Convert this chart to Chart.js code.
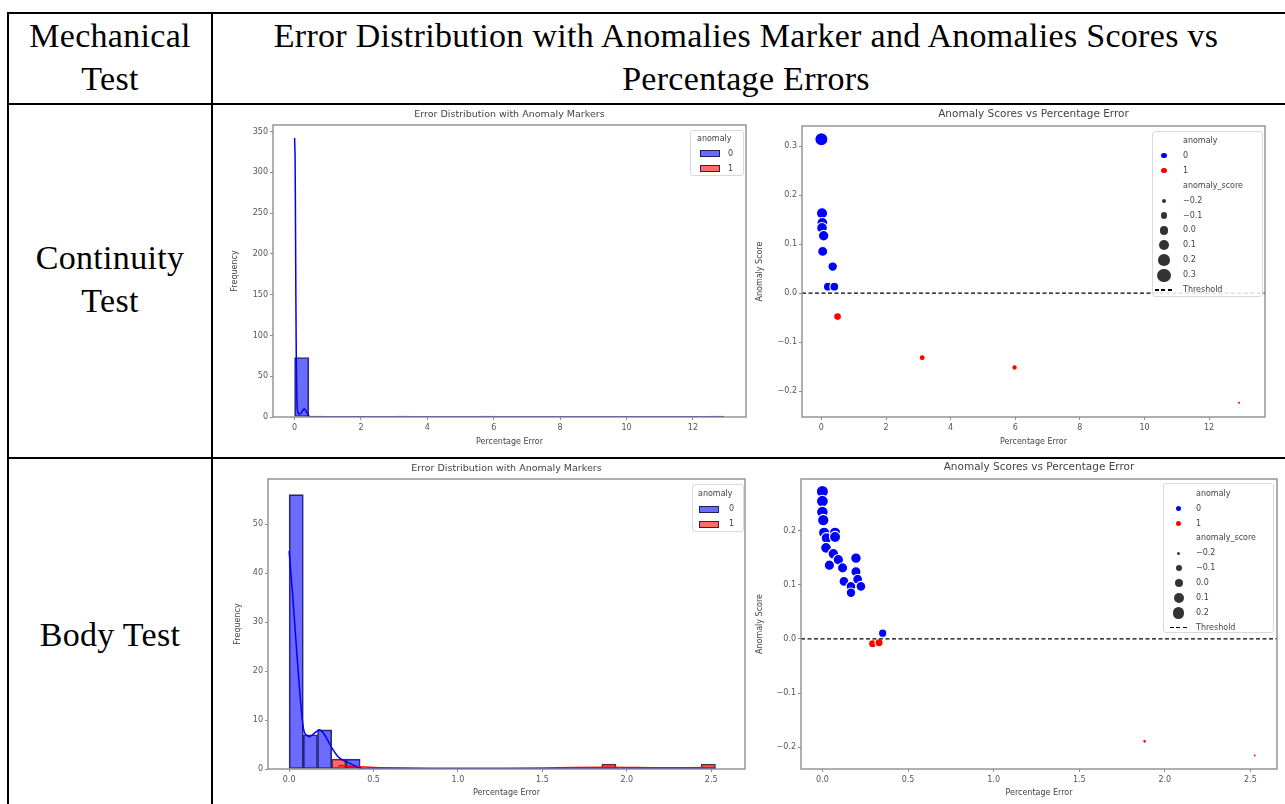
<!DOCTYPE html>
<html>
<head>
<meta charset="utf-8">
<script src="https://cdn.jsdelivr.net/npm/chart.js@4.4.1/dist/chart.umd.min.js"></script>
<style>
html,body{margin:0;padding:0;background:#fff;}
body{width:1285px;height:804px;overflow:hidden;position:relative;}
.ln{position:absolute;background:#000;}
.cell{position:absolute;font-family:'Liberation Serif','Times New Roman',serif;font-size:34px;line-height:43.3px;letter-spacing:0.3px;color:#000;text-align:center;white-space:nowrap;}
canvas{position:absolute;}
.lg{position:absolute;box-sizing:border-box;background:rgba(255,255,255,0.85);border:1px solid #d9d9d9;border-radius:3px;}
.lg span{position:absolute;font-family:'DejaVu Sans',sans-serif;font-size:8px;line-height:8px;color:#444;white-space:nowrap;}
.lg i{position:absolute;display:block;}
</style>
</head>
<body>
<div class="ln" style="left:7px;top:12px;width:1278px;height:2px"></div>
<div class="ln" style="left:7px;top:103px;width:1278px;height:2px"></div>
<div class="ln" style="left:7px;top:457px;width:1278px;height:2px"></div>
<div class="ln" style="left:7px;top:12px;width:2px;height:792px"></div>
<div class="ln" style="left:211px;top:12px;width:2px;height:792px"></div>

<div class="cell" style="left:9px;width:202px;top:13.6px">Mechanical<br>Test</div>
<div class="cell" style="left:213px;width:1066px;top:13.6px">Error Distribution with Anomalies Marker and Anomalies Scores vs<br>Percentage Errors</div>
<div class="cell" style="left:9px;width:202px;top:236px">Continuity<br>Test</div>
<div class="cell" style="left:9px;width:202px;top:613px">Body Test</div>

<canvas id="cHist"></canvas>
<canvas id="cScore"></canvas>
<canvas id="bHist"></canvas>
<canvas id="bScore"></canvas>

<script>
// ================= DATA =================
// Continuity Test - histogram (30 bins)
const contBinCenters = [0.2155, 0.6465, 1.0775, 1.5085, 1.9395, 2.3705, 2.8015, 3.2325, 3.6635, 4.0945,
  4.5255, 4.9565, 5.3875, 5.8185, 6.2495, 6.6805, 7.1115, 7.5425, 7.9735, 8.4045,
  8.8355, 9.2665, 9.6975, 10.1285, 10.5595, 10.9905, 11.4215, 11.8525, 12.2835, 12.7145];
const contBlueCounts = [73, 0, 0, 0, 0, 0, 0, 0, 0, 0, 0, 0, 0, 0, 0, 0, 0, 0, 0, 0, 0, 0, 0, 0, 0, 0, 0, 0, 0, 0];
const contRedCounts  = [0, 1, 0, 0, 0, 0, 0, 1, 0, 0, 0, 0, 0, 1, 0, 0, 0, 0, 0, 0, 0, 0, 0, 0, 0, 0, 0, 0, 0, 1];
const contKdeBlueX = [0.0, 0.015, 0.03, 0.05, 0.08, 0.12, 0.18, 0.24, 0.3, 0.36, 0.42, 0.5, 12.93];
const contKdeBlueY = [342, 320, 220, 80, 10, 4, 4, 8, 10, 6, 1.5, 0, 0];
const contKdeRedX = [0.5, 2.0, 4.0, 6.0, 8.0, 10.0, 12.93];
const contKdeRedY = [0.2, 0.2, 0.2, 0.2, 0.15, 0.1, 0.1];
const contHistXTicks = [0, 2, 4, 6, 8, 10, 12];
const contHistYTicks = [0, 50, 100, 150, 200, 250, 300, 350];
const contHistXRange = [-0.65, 13.6];
const contHistYRange = [0, 358];

// Continuity Test - anomaly scores
const contBlueErr   = [0.0, 0.02, 0.03, 0.02, 0.07, 0.04, 0.35, 0.2, 0.4];
const contBlueScore = [0.314, 0.163, 0.143, 0.133, 0.117, 0.085, 0.054, 0.013, 0.013];
const contRedErr    = [0.5, 3.12, 5.98, 12.93];
const contRedScore  = [-0.048, -0.132, -0.152, -0.224];
const contScoreXTicks = [0, 2, 4, 6, 8, 10, 12];
const contScoreYTicks = [-0.2, -0.1, 0.0, 0.1, 0.2, 0.3];
const contScoreXRange = [-0.60, 13.73];
const contScoreYRange = [-0.253, 0.341];
const contSizeLevels = [-0.2, -0.1, 0.0, 0.1, 0.2, 0.3];

// Body Test - histogram (30 bins)
const bodyBinCenters = [0.0421, 0.1262, 0.2104, 0.2946, 0.3787, 0.4629, 0.5471, 0.6313, 0.7154, 0.7996,
  0.8838, 0.9679, 1.0521, 1.1363, 1.2204, 1.3046, 1.3888, 1.4730, 1.5571, 1.6413,
  1.7255, 1.8096, 1.8938, 1.9780, 2.0621, 2.1463, 2.2305, 2.3146, 2.3988, 2.4830];
const bodyBlueCounts = [56, 7, 8, 0, 2, 0, 0, 0, 0, 0, 0, 0, 0, 0, 0, 0, 0, 0, 0, 0, 0, 0, 0, 0, 0, 0, 0, 0, 0, 0];
const bodyRedCounts  = [0, 0, 0, 2, 0, 0, 0, 0, 0, 0, 0, 0, 0, 0, 0, 0, 0, 0, 0, 0, 0, 0, 1, 0, 0, 0, 0, 0, 0, 1];
const bodyKdeBlueX = [0.0, 0.02, 0.045, 0.07, 0.09, 0.12, 0.15, 0.18, 0.21, 0.25, 0.29, 0.33, 0.37, 0.41, 0.45, 2.525];
const bodyKdeBlueY = [44.5, 36, 24, 13, 7.5, 6.6, 7.3, 8, 7, 4.5, 2.5, 1.6, 1.0, 0.3, 0, 0];
const bodyKdeRedX = [0.29, 0.31, 0.33, 0.5, 1.0, 1.5, 1.88, 2.2, 2.525];
const bodyKdeRedY = [0.6, 0.7, 0.6, 0.3, 0.15, 0.2, 0.35, 0.25, 0.3];
const bodyHistXTicks = [0.0, 0.5, 1.0, 1.5, 2.0, 2.5];
const bodyHistYTicks = [0, 10, 20, 30, 40, 50];
const bodyHistXRange = [-0.125, 2.7];
const bodyHistYRange = [0, 59.2];

// Body Test - anomaly scores
const bodyBlueErr   = [0.0, 0.0, 0.0, 0.005, 0.01, 0.025, 0.074, 0.074, 0.021, 0.064, 0.041, 0.093, 0.118, 0.126, 0.167, 0.167, 0.196, 0.196, 0.206, 0.225, 0.352];
const bodyBlueScore = [0.272, 0.254, 0.234, 0.219, 0.196, 0.186, 0.196, 0.188, 0.168, 0.157, 0.136, 0.146, 0.131, 0.106, 0.097, 0.085, 0.149, 0.124, 0.110, 0.097, 0.0105];
const bodyRedErr    = [0.293, 0.331, 1.882, 2.525];
const bodyRedScore  = [-0.009, -0.007, -0.189, -0.215];
const bodyScoreXTicks = [0.0, 0.5, 1.0, 1.5, 2.0, 2.5];
const bodyScoreYTicks = [-0.2, -0.1, 0.0, 0.1, 0.2];
const bodyScoreXRange = [-0.125, 2.655];
const bodyScoreYRange = [-0.24, 0.295];
const bodySizeLevels = [-0.2, -0.1, 0.0, 0.1, 0.2];

const threshold = 0.0;

// ================= RENDERING =================
const FONT = "'DejaVu Sans', sans-serif";
Chart.defaults.font.family = FONT;
const BLUE_FILL = 'rgba(0,0,255,0.58)';
const RED_FILL = 'rgba(255,0,0,0.58)';
const EDGE = 'rgba(20,20,50,0.85)';
const SPINE = '#8e8e8e';
const TXT = '#444';

const zip = (xs, ys) => xs.map((x, i) => ({x: x, y: ys[i]}));
const fmt1 = v => v.toFixed(1).replace('-', '\u2212');
const fmt0 = v => String(v);

const spinePlugin = {
  id: 'spines',
  afterDatasetsDraw(chart) {
    const {ctx, chartArea: a} = chart;
    ctx.save();
    ctx.strokeStyle = SPINE; ctx.lineWidth = 1.4;
    ctx.strokeRect(a.left, a.top, a.right - a.left, a.bottom - a.top);
    ctx.restore();
  }
};

function geom(id, cv, plot, yW, xH, titleSize, titlePadB) {
  const el = document.getElementById(id);
  el.width = cv.w; el.height = cv.h;
  Object.assign(el.style, {left: cv.x + 'px', top: cv.y + 'px', width: cv.w + 'px', height: cv.h + 'px'});
  const titleH = titleSize * 1.2 + titlePadB;
  return {el, yW, xH, titleSize, titlePadB, padding: {
    left: plot.L - cv.x - yW, top: plot.T - cv.y - titleH,
    right: cv.x + cv.w - plot.R, bottom: cv.y + cv.h - plot.B - xH }};
}

function axisCommon(range, ticks, fmt, title, fixed, isX) {
  const o = {
    type: 'linear', min: range[0], max: range[1], offset: false,
    afterBuildTicks: s => { s.ticks = ticks.map(v => ({value: v})); },
    ticks: {autoSkip: false, maxRotation: 0, padding: isX ? 3 : 2, color: '#555', font: {size: 8, family: FONT}, callback: v => fmt(v)},
    grid: {display: true, drawOnChartArea: false, drawTicks: true, tickLength: 3, color: SPINE, offset: false},
    border: {display: false},
    title: {display: true, text: title, color: TXT, font: {size: 8, family: FONT},
            padding: isX ? {top: 0, bottom: 2} : {top: 3, bottom: 0}}
  };
  if (isX) o.afterFit = s => { s.height = fixed; };
  else o.afterFit = s => { s.width = fixed; };
  return o;
}

function baseOptions(g, titleText, xAxis, yAxis) {
  return {
    responsive: false, animation: false, devicePixelRatio: 1,
    layout: {padding: g.padding},
    plugins: {
      legend: {display: false}, tooltip: {enabled: false},
      title: {display: true, text: titleText, fullSize: false, color: TXT,
              font: {size: g.titleSize, weight: 'normal', family: FONT},
              padding: {top: 0, bottom: g.titlePadB}}
    },
    scales: {x: xAxis, y: yAxis}
  };
}

function histChart(g, d) {
  const bw = c => (c.raw && c.raw.y > 0) ? 1 : 0;
  new Chart(g.el, {
    type: 'bar',
    data: {datasets: [
      {type: 'line', data: zip(d.kbx, d.kby), borderColor: 'blue', borderWidth: 1.5, pointRadius: 0, tension: 0.3, order: 0},
      {type: 'line', data: zip(d.krx, d.kry), borderColor: 'red', borderWidth: 1.5, pointRadius: 0, tension: 0.3, order: 1},
      {data: zip(d.bins, d.red), backgroundColor: RED_FILL, borderColor: EDGE, borderWidth: bw, borderSkipped: false,
       grouped: false, barPercentage: 1, categoryPercentage: 1, order: 2},
      {data: zip(d.bins, d.blue), backgroundColor: BLUE_FILL, borderColor: EDGE, borderWidth: bw, borderSkipped: false,
       grouped: false, barPercentage: 1, categoryPercentage: 1, order: 3}
    ]},
    options: baseOptions(g, 'Error Distribution with Anomaly Markers',
      axisCommon(d.xr, d.xt, d.xf, 'Percentage Error', g.xH, true),
      axisCommon(d.yr, d.yt, fmt0, 'Frequency', g.yW, false)),
    plugins: [spinePlugin]
  });
}

function sizeFn(sMin, sMax, rMax) {
  return s => rMax * Math.sqrt((1 + 9 * (s - sMin) / (sMax - sMin)) / 10);
}

function scoreChart(g, d) {
  const rad = sizeFn(d.sMin, d.sMax, d.rMax);
  const pr = c => rad(c.raw.y) - 0.6;
  new Chart(g.el, {
    type: 'scatter',
    data: {datasets: [
      {type: 'line', data: [{x: d.xr[0], y: threshold}, {x: d.xr[1], y: threshold}], borderColor: '#000',
       borderWidth: 1.3, borderDash: [4, 2.5], pointRadius: 0, order: 0},
      {data: zip(d.bx, d.by), pointBackgroundColor: 'blue', backgroundColor: 'blue', pointBorderColor: '#fff',
       borderColor: '#fff', pointBorderWidth: 1.2, pointRadius: pr, pointHoverRadius: pr, order: 1},
      {data: zip(d.rx, d.ry), pointBackgroundColor: 'red', backgroundColor: 'red', pointBorderColor: '#fff',
       borderColor: '#fff', pointBorderWidth: 1.2, pointRadius: pr, pointHoverRadius: pr, order: 1}
    ]},
    options: baseOptions(g, 'Anomaly Scores vs Percentage Error',
      axisCommon(d.xr, d.xt, d.xf, 'Percentage Error', g.xH, true),
      axisCommon(d.yr, d.yt, fmt1, 'Anomaly Score', g.yW, false)),
    plugins: [spinePlugin]
  });
  return rad;
}

function addLegend(box, items) {
  const d = document.createElement('div');
  d.className = 'lg';
  Object.assign(d.style, {left: box.x + 'px', top: box.y + 'px', width: box.w + 'px', height: box.h + 'px'});
  items.forEach((it, i) => {
    const cy = box.row0 + i * box.step;
    if (it.kind === 'dot') {
      const m = document.createElement('i');
      Object.assign(m.style, {left: (box.mx - it.r) + 'px', top: (cy - it.r) + 'px', width: 2 * it.r + 'px',
        height: 2 * it.r + 'px', borderRadius: '50%', background: it.color});
      d.appendChild(m);
    } else if (it.kind === 'patch') {
      const m = document.createElement('i');
      Object.assign(m.style, {left: box.px + 'px', top: (cy - 3.5) + 'px', width: '20px', height: '7px',
        background: it.color, boxSizing: 'border-box', border: '1px solid ' + EDGE});
      d.appendChild(m);
    } else if (it.kind === 'dash') {
      const m = document.createElement('i');
      Object.assign(m.style, {left: (box.mx - 9) + 'px', top: (cy - 0.65) + 'px', width: '18px', height: '1.3px',
        background: 'repeating-linear-gradient(90deg,#000 0 4px,transparent 4px 6.5px)'});
      d.appendChild(m);
    }
    const s = document.createElement('span');
    s.textContent = it.label;
    s.style.left = (it.kind === 'title' && box.tx0 !== undefined ? box.tx0 : box.tx) + 'px';
    s.style.top = (cy - 4) + 'px';
    d.appendChild(s);
  });
  document.body.appendChild(d);
}

// ---- Continuity: histogram ----
const gA = geom('cHist', {x: 214, y: 106, w: 540, h: 351}, {L: 273, T: 125, R: 746, B: 417}, 45.8, 31.8, 9.5, 5.2);
histChart(gA, {bins: contBinCenters, blue: contBlueCounts, red: contRedCounts,
  kbx: contKdeBlueX, kby: contKdeBlueY, krx: contKdeRedX, kry: contKdeRedY,
  xr: contHistXRange, xt: contHistXTicks, xf: fmt0, yr: contHistYRange, yt: contHistYTicks});
addLegend({x: 690, y: 130, w: 54, h: 46, row0: 7.5, step: 15.2, px: 9, tx: 37, tx0: 6}, [
  {kind: 'title', label: 'anomaly'},
  {kind: 'patch', label: '0', color: BLUE_FILL},
  {kind: 'patch', label: '1', color: RED_FILL}
]);

// ---- Continuity: scores ----
const gB = geom('cScore', {x: 750, y: 106, w: 535, h: 351}, {L: 802, T: 126, R: 1265, B: 417}, 49.8, 31.8, 10.5, 5.2);
const contAll = contBlueScore.concat(contRedScore);
const radB = scoreChart(gB, {bx: contBlueErr, by: contBlueScore, rx: contRedErr, ry: contRedScore,
  sMin: Math.min(...contAll), sMax: Math.max(...contAll), rMax: 7.2,
  xr: contScoreXRange, xt: contScoreXTicks, xf: fmt0, yr: contScoreYRange, yt: contScoreYTicks});
addLegend({x: 1152, y: 131, w: 111, h: 166, row0: 9, step: 14.9, mx: 11, tx: 30}, [
  {kind: 'title', label: 'anomaly'},
  {kind: 'dot', label: '0', color: 'blue', r: 2.6},
  {kind: 'dot', label: '1', color: 'red', r: 2.6},
  {kind: 'title', label: 'anomaly_score'}
].concat(contSizeLevels.map(v => ({kind: 'dot', label: fmt1(v), color: '#333', r: Math.max(radB(v) - 0.6, 1.2)})))
 .concat([{kind: 'dash', label: 'Threshold'}]));

// ---- Body: histogram ----
const gC = geom('bHist', {x: 214, y: 460, w: 540, h: 344}, {L: 268, T: 479, R: 745, B: 769}, 37.8, 31.1, 9.5, 5.2);
histChart(gC, {bins: bodyBinCenters, blue: bodyBlueCounts, red: bodyRedCounts,
  kbx: bodyKdeBlueX, kby: bodyKdeBlueY, krx: bodyKdeRedX, kry: bodyKdeRedY,
  xr: bodyHistXRange, xt: bodyHistXTicks, xf: fmt1, yr: bodyHistYRange, yt: bodyHistYTicks});
addLegend({x: 692, y: 484, w: 52, h: 48, row0: 9.3, step: 15, px: 6, tx: 36, tx0: 5}, [
  {kind: 'title', label: 'anomaly'},
  {kind: 'patch', label: '0', color: BLUE_FILL},
  {kind: 'patch', label: '1', color: RED_FILL}
]);

// ---- Body: scores ----
const gD = geom('bScore', {x: 750, y: 460, w: 535, h: 344}, {L: 801, T: 479, R: 1277, B: 769}, 48.8, 31.1, 10.5, 5.2);
const bodyAll = bodyBlueScore.concat(bodyRedScore);
const radD = scoreChart(gD, {bx: bodyBlueErr, by: bodyBlueScore, rx: bodyRedErr, ry: bodyRedScore,
  sMin: Math.min(...bodyAll), sMax: Math.max(...bodyAll), rMax: 6.7,
  xr: bodyScoreXRange, xt: bodyScoreXTicks, xf: fmt1, yr: bodyScoreYRange, yt: bodyScoreYTicks});
addLegend({x: 1163, y: 483, w: 111, h: 150, row0: 9.7, step: 14.9, mx: 14.7, tx: 32}, [
  {kind: 'title', label: 'anomaly'},
  {kind: 'dot', label: '0', color: 'blue', r: 2.6},
  {kind: 'dot', label: '1', color: 'red', r: 2.6},
  {kind: 'title', label: 'anomaly_score'}
].concat(bodySizeLevels.map(v => ({kind: 'dot', label: fmt1(v), color: '#333', r: Math.max(radD(v) - 0.6, 1.2)})))
 .concat([{kind: 'dash', label: 'Threshold'}]));
</script>
</body>
</html>
